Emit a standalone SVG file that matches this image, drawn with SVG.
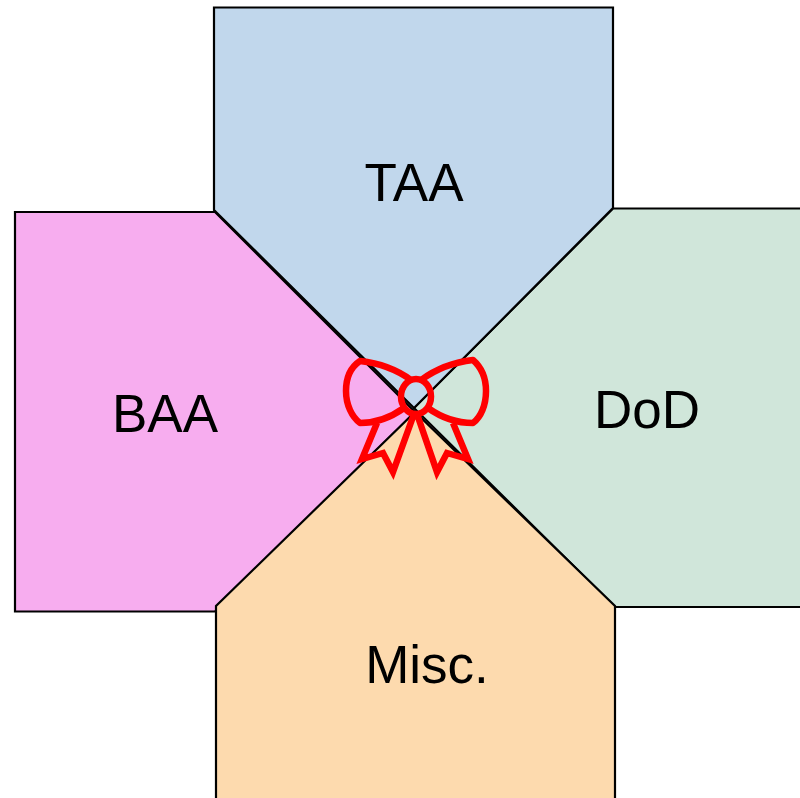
<svg xmlns="http://www.w3.org/2000/svg" width="800" height="798" viewBox="0 0 800 798">
<style>
.n{stroke:#000;stroke-width:2.200}
.t{font-family:"Liberation Sans",Arial,sans-serif;font-size:53px;fill:#000;text-anchor:middle}
.b{fill:none;stroke:#f00;stroke-width:6.500;stroke-linejoin:round}
</style>
<rect width="800" height="798" fill="#fff"/>
<g id="baa"><path class="n" fill="#f7adef" d="M15 212H215L415 412L215 611.500H15Z"/><text class="t" x="165" y="432">BAA</text></g>
<g id="dod"><path class="n" fill="#d0e6da" d="M801 208.500H613L414 408L615 607H801"/><text class="t" x="647" y="428">DoD</text></g>
<g id="misc"><path class="n" fill="#fddaae" d="M216 799V606L415 412L615 606V799"/><text class="t" x="427" y="683">Misc.</text></g>
<g id="taa"><path class="n" fill="#c1d7ec" d="M214 7.500H613V208L414 408L214 210Z"/><text class="t" x="414" y="201">TAA</text></g>
<g id="bow">
<path class="b" d="M411 380C396 369 378 363 360 361C351 367 346 378 346 391C346 405 352 417 360 423C376 423 390 418 404 408"/>
<path class="b" d="M421 380C436 369 455 362 473 360C481 367 486 378 486 391C486 405 481 417 473 423C457 423 442 418 428 408"/>
<ellipse class="b" cx="416" cy="396.500" rx="15" ry="17.500"/>
<path class="b" style="stroke-linejoin:miter" d="M377 423L362 459L383 453L393 472L414 414M417 414L437 472L447 453L468 459L453 423"/>
</g>
</svg>
